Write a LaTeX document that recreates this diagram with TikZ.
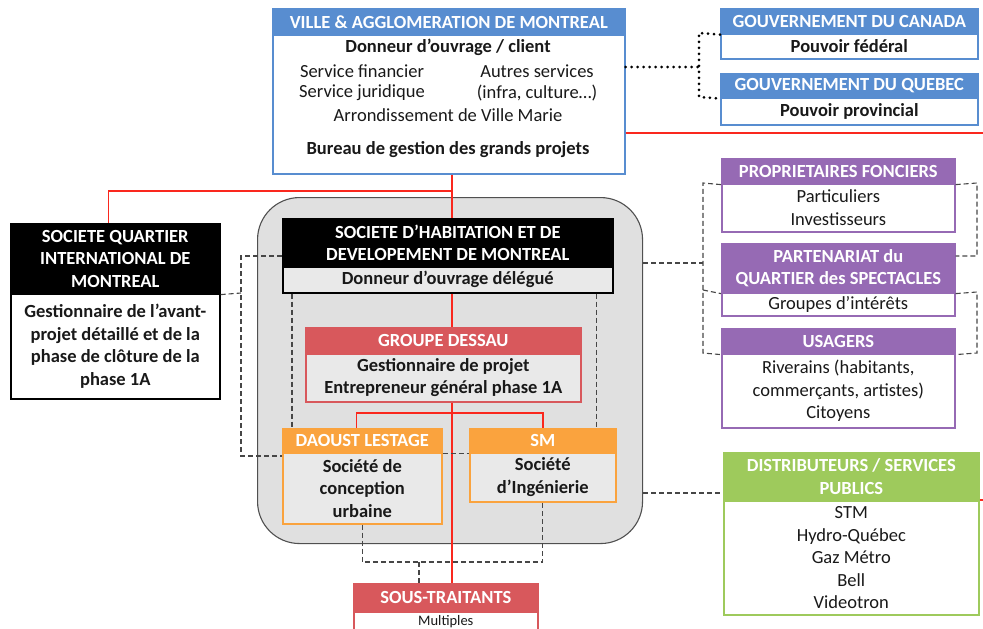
\documentclass[tikz,border=0pt]{standalone}
\usepackage{fontspec}
\setmainfont{Carlito}
\usetikzlibrary{calc}
\definecolor{blueC}{RGB}{88,141,208}
\definecolor{purpC}{RGB}{150,106,180}
\definecolor{greenC}{RGB}{158,202,92}
\definecolor{orangeC}{RGB}{250,163,62}
\definecolor{redC}{RGB}{216,88,92}
\definecolor{lineRed}{RGB}{250,40,30}
\definecolor{grpGrey}{RGB}{224,224,224}
\definecolor{grpEdge}{RGB}{80,80,80}
\definecolor{dashC}{RGB}{70,70,70}
\definecolor{txtC}{RGB}{25,25,25}
\newcommand\hdf{\bfseries\fontsize{18.5}{22.5}\selectfont}
\newcommand\bdf{\fontsize{18.5}{22.5}\selectfont}
\newcommand\bdb{\bfseries\fontsize{18.5}{22.5}\selectfont}
\begin{document}
\begin{tikzpicture}[x=1pt,y=-1pt,
  hd/.style={draw=#1, fill=#1, line width=1.6pt, text=white, font=\hdf, align=center, inner sep=0pt, anchor=north west},
  bd/.style={draw=#1, fill=white, line width=1.6pt, text=txtC, font=\bdf, align=center, inner sep=0pt, anchor=north west},
  txt/.style={text=txtC, font=\bdf, inner sep=0pt},
  rl/.style={draw=lineRed, line width=1.6pt},
  dsh/.style={draw=dashC, line width=1.1pt, dash pattern=on 5pt off 3pt},
  dotl/.style={draw=black, line width=3pt, line cap=round, dash pattern=on 0pt off 6pt}]
\useasboundingbox (0,0) rectangle (983,629);

% group background
\node[draw=grpEdge, fill=grpGrey, line width=1.1pt, rounded corners=42pt, minimum width=385, minimum height=346, anchor=north west, inner sep=0pt] (grp) at (257,197) {};

% Ville
\node[hd=blueC, minimum width=352, minimum height=26] (villeH) at (272,8) {VILLE \& AGGLOMERATION DE MONTREAL};
\node[bd=blueC, minimum width=352, minimum height=139] (villeB) at (272,34) {};
\node[txt, font=\bdb] (v1) at (448,47) {Donneur d’ouvrage / client};
\node[txt] (v2) at (362,71) {Service financier};
\node[txt] (v3) at (537,71) {Autres services};
\node[txt] (v4) at (362,93) {Service juridique};
\node[txt] (v5) at (537,93) {(infra, culture…)};
\node[txt] (v6) at (448,115) {Arrondissement de Ville Marie};
\node[txt, font=\bdb] (v7) at (448,150) {Bureau de gestion des grands projets};

% Governments
\node[hd=blueC, minimum width=257, minimum height=25] (gcH) at (720,8) {GOUVERNEMENT DU CANADA};
\node[bd=blueC, minimum width=257, minimum height=25, font=\bdb] (gcB) at (720,33) {Pouvoir fédéral};
\node[hd=blueC, minimum width=257, minimum height=24] (gqH) at (720,73) {GOUVERNEMENT DU QUEBEC};
\node[bd=blueC, minimum width=257, minimum height=27, font=\bdb] (gqB) at (720,97) {Pouvoir provincial};

% SQI
\node[hd=black, minimum width=209, minimum height=70] (sqiH) at (10,223) {SOCIETE QUARTIER\\INTERNATIONAL DE\\MONTREAL};
\node[bd=black, minimum width=209, minimum height=105, font=\bdb] (sqiB) at (10,293) {Gestionnaire de l’avant-\\projet détaillé et de la\\phase de clôture de la\\phase 1A};

% SHDM
\node[hd=black, minimum width=330, minimum height=48] (shdmH) at (282,218) {SOCIETE D’HABITATION ET DE\\DEVELOPEMENT DE MONTREAL};
\node[bd=black, fill=grpGrey!70!white, minimum width=330, minimum height=26, font=\bdb] (shdmB) at (282,266) {Donneur d’ouvrage délégué};

% Dessau
\node[hd=redC, minimum width=275, minimum height=26] (dessH) at (305,327) {GROUPE DESSAU};
\node[bd=redC, fill=grpGrey!70!white, minimum width=275, minimum height=48, font=\bdb] (dessB) at (305,353) {Gestionnaire de projet\\Entrepreneur général phase 1A};

% Daoust / SM
\node[hd=orangeC, minimum width=159, minimum height=24] (dauH) at (282,428) {DAOUST LESTAGE};
\node[bd=orangeC, fill=grpGrey!70!white, minimum width=159, minimum height=71, font=\bdb] (dauB) at (282,452) {Société de\\conception\\urbaine};
\node[hd=orangeC, minimum width=146, minimum height=24] (smH) at (469,428) {SM};
\node[bd=orangeC, fill=grpGrey!70!white, minimum width=146, minimum height=49, font=\bdb] (smB) at (469,452) {Société\\d’Ingénierie};

% Sous-traitants
\node[hd=redC, minimum width=184, minimum height=28] (stH) at (353,583) {SOUS-TRAITANTS};
\node[bd=redC, minimum width=184, minimum height=20, font=\fontsize{14.5}{16}\selectfont] (stB) at (353,611) {Multiples};

% Purple boxes
\node[hd=purpC, minimum width=233, minimum height=25] (propH) at (721,158) {PROPRIETAIRES FONCIERS};
\node[bd=purpC, minimum width=233, minimum height=48] (propB) at (721,183) {Particuliers\\Investisseurs};
\node[hd=purpC, minimum width=233, minimum height=49] (partH) at (721,243) {PARTENARIAT du\\QUARTIER des SPECTACLES};
\node[bd=purpC, minimum width=233, minimum height=23] (partB) at (721,292) {Groupes d’intérêts};
\node[hd=purpC, minimum width=233, minimum height=25] (usaH) at (721,328) {USAGERS};
\node[bd=purpC, minimum width=233, minimum height=74] (usaB) at (721,353) {Riverains (habitants,\\commerçants, artistes)\\Citoyens};

% Distributeurs
\node[hd=greenC, minimum width=255, minimum height=48] (distH) at (723,452) {DISTRIBUTEURS / SERVICES\\PUBLICS};
\node[bd=greenC, minimum width=255, minimum height=114] (distB) at (723,500) {STM\\Hydro-Québec\\Gaz Métro\\Bell\\Videotron};

% red connectors
\coordinate (trunk) at (452,0);
\coordinate (redR) at (983,133);
\coordinate (redR2) at (983,500);
\draw[rl] (villeB.south -| trunk) -- (shdmH.north -| trunk);
\draw[rl] (trunk |- 0,191) -| ([xshift=-7pt]sqiH.north);
\draw[rl] (shdmB.south -| trunk) -- (dessH.north -| trunk);
\draw[rl] (dessB.south -| trunk) -- (stH.north -| trunk);
\draw[rl] ([xshift=-6pt]dauH.north) |- (smH.north |- 0,413) -- (smH.north);
\draw[rl] (villeB.east |- redR) -- (redR);
\draw[rl] (distB.north east) -- (redR2);

% dotted connectors
\draw[dotl] (villeB.east |- 0,67) -- (699,67);
\draw[dotl] (gcH.south west) -- (699,33) -- (699,97) -- (gqH.south west);

% dashed connectors
\draw[dsh] (sqiH.south east) -- (241,293);
\draw[dsh] (shdmH.west |- 0,256) -- (241,256) -- (241,456) -- (dauB.west |- 0,456);
\draw[dsh] ([xshift=10pt]shdmB.south west) -- ([xshift=10pt]shdmB.south west |- dauH.north);
\draw[dsh] ([xshift=-17pt]shdmB.south east) -- ([xshift=-17pt]shdmB.south east |- smH.north);
\draw[dsh] (dauH.south east) -- (smH.south west);
\draw[dsh] (dauB.south) |- (smB.south |- 0,562) -- (smB.south);
\draw[dsh] (419,562) -- (stH.north -| 419,0);
\draw[dsh] (grp.east |- 0,263) -- (703,263);
\draw[dsh] (propH.south west) -- (703,183) -- (703,353) -- (usaH.south west);
\draw[dsh] (703,290) -- (partH.south west);
\draw[dsh] (propH.south east) -- (977,183) -- (977,256) -- (partH.east |- 0,256);
\draw[dsh] (partH.south east) -- (977,292) -- (977,353) -- (usaH.south east);
\draw[dsh] (grp.east |- 0,493) -- (distH.west |- 0,493);
\end{tikzpicture}
\end{document}
